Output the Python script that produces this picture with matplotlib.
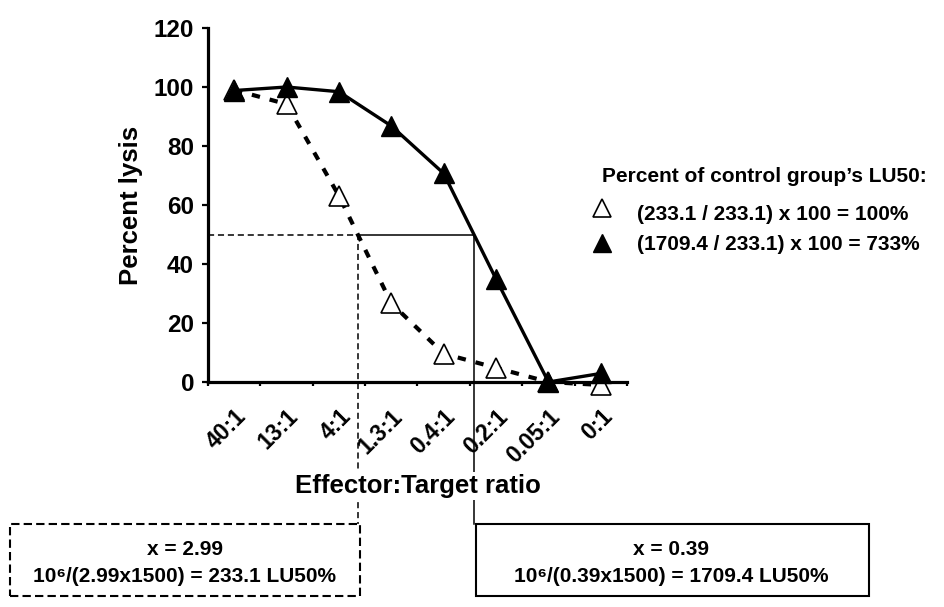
import numpy as np
import matplotlib
matplotlib.use("Agg")
import matplotlib.pyplot as plt
from matplotlib.lines import Line2D
from matplotlib.patches import Rectangle
from matplotlib.transforms import blended_transform_factory

plt.rcParams['font.family'] = ['Liberation Sans', 'DejaVu Sans']
plt.rcParams['font.weight'] = 'bold'
plt.rcParams['axes.labelweight'] = 'bold'

# ---- data ----
categories = ['40:1', '13:1', '4:1', '1.3:1', '0.4:1', '0.2:1', '0.05:1', '0:1']
control_lysis = [99, 94.2, 63.1, 26.7, 9.6, 4.8, 0, -1]       # open triangles
treated_lysis = [98.8, 100, 98.4, 86.8, 70.7, 34.9, 0, 2.9]   # filled triangles
lu50_level = 50
control_x50 = 2.37   # category position where control curve crosses 50%
treated_x50 = 4.58   # category position where treated curve crosses 50%
y_ticks = [0, 20, 40, 60, 80, 100, 120]

legend_title = 'Percent of control group\u2019s LU50:'
legend_control = '(233.1 / 233.1) x 100 = 100%'
legend_treated = '(1709.4 / 233.1) x 100 = 733%'
box_control = ['x = 2.99', '10\u2076/(2.99x1500) = 233.1 LU50%']
box_treated = ['x = 0.39', '10\u2076/(0.39x1500) = 1709.4 LU50%']

W, H = 945, 607
fig = plt.figure(figsize=(W / 100, H / 100), dpi=100)
ax = fig.add_axes([208 / W, 1 - 382 / H, (627 - 208) / W, (382 - 28) / H])

def fx(px):
    return px / W

def fy(py):
    return 1 - py / H

x = np.arange(len(categories))

# dotted control curve with open markers
ax.plot(x, control_lysis, color='black', lw=3.0, dashes=(2.0, 2.4),
        marker='^', ms=14, mfc='white', mec='black', mew=1.2,
        clip_on=False, zorder=3)
# solid treated curve with filled markers
ax.plot(x, treated_lysis, color='black', lw=2.4, solid_joinstyle='miter',
        marker='^', ms=14, mfc='black', mec='black', mew=1.0,
        clip_on=False, zorder=4)

# 50% reference lines
ax.plot([-0.5, control_x50], [lu50_level, lu50_level], color='black', lw=1.1,
        dashes=(4, 2.5), zorder=2)
ax.plot([control_x50, treated_x50], [lu50_level, lu50_level], color='black',
        lw=1.1, zorder=2)

ax.set_xlim(-0.5, len(categories) - 0.5)
ax.set_ylim(0, 120)

# vertical drops from 50% down to the annotation boxes
y50_fig = (ax.transData + fig.transFigure.inverted()).transform((0, lu50_level))[1]
blend = blended_transform_factory(ax.transData, fig.transFigure)
ax.add_line(Line2D([control_x50, control_x50], [y50_fig, fy(524)], transform=blend,
                   color='black', lw=1.1, dashes=(4, 2.5), clip_on=False, zorder=2))
ax.add_line(Line2D([treated_x50, treated_x50], [y50_fig, fy(524)], transform=blend,
                   color='black', lw=1.1, clip_on=False, zorder=2))
ax.set_xlim(-0.5, len(categories) - 0.5)
ax.set_ylim(0, 120)

# spines & ticks
for s in ['top', 'right']:
    ax.spines[s].set_visible(False)
for s in ['left', 'bottom']:
    ax.spines[s].set_linewidth(2.3)
    ax.spines[s].set_zorder(2.5)

ax.set_yticks(y_ticks)
ax.set_yticklabels([str(v) for v in y_ticks], fontsize=17.5, fontweight='bold')
ax.tick_params(axis='y', length=4.5, width=1.6, pad=5.5, direction='out')

ax.set_xticks(x)
ax.set_xticklabels(categories, fontsize=16.5, fontweight='bold', rotation=45,
                   ha='right', rotation_mode='anchor')
ax.set_xticks(np.arange(-0.5, len(categories), 1), minor=True)
ax.tick_params(axis='x', which='major', length=0, pad=16.5)
ax.tick_params(axis='x', which='minor', length=3, width=1.6, direction='out')

ax.set_ylabel('Percent lysis', fontsize=18.5, fontweight='bold')
ax.yaxis.label.set_va('center')
ax.yaxis.set_label_coords((131 - 208) / 419, 0.5)

ax.set_xlabel('Effector:Target ratio', fontsize=18.5, fontweight='bold',
              bbox=dict(facecolor='white', edgecolor='none', pad=1.5))
ax.xaxis.label.set_va('baseline')
ax.xaxis.set_label_coords(0.5, (382 - 493) / 354)
ax.xaxis.set_zorder(5)

# legend (manual)
fig.text(fx(602), fy(181.5), legend_title, fontsize=15, fontweight='bold',
         ha='left', va='baseline')
fig.add_artist(Line2D([fx(602)], [fy(208)], marker='^', ms=13.5, mfc='white',
                      mec='black', mew=1.2, ls='none', transform=fig.transFigure))
fig.add_artist(Line2D([fx(602)], [fy(243)], marker='^', ms=13.5, mfc='black',
                      mec='black', ls='none', transform=fig.transFigure))
fig.text(fx(637), fy(220), legend_control, fontsize=15, fontweight='bold',
         ha='left', va='baseline')
fig.text(fx(637), fy(250), legend_treated, fontsize=15, fontweight='bold',
         ha='left', va='baseline')

# annotation boxes
fig.add_artist(Rectangle((fx(10), fy(596)), fx(360) - fx(10), fy(524) - fy(596),
                         transform=fig.transFigure, fill=False, edgecolor='black',
                         lw=1.5, linestyle=(0, (4, 2))))
fig.add_artist(Rectangle((fx(476), fy(596)), fx(869) - fx(476), fy(524) - fy(596),
                         transform=fig.transFigure, fill=False, edgecolor='black',
                         lw=1.5))
fig.text(fx(185), fy(555), box_control[0], fontsize=15, fontweight='bold',
         ha='center', va='baseline')
fig.text(fx(185), fy(581.5), box_control[1], fontsize=15, fontweight='bold',
         ha='center', va='baseline')
fig.text(fx(671), fy(555), box_treated[0], fontsize=15, fontweight='bold',
         ha='center', va='baseline')
fig.text(fx(671), fy(581.5), box_treated[1], fontsize=15, fontweight='bold',
         ha='center', va='baseline')

fig.savefig('out.png', dpi=100)
